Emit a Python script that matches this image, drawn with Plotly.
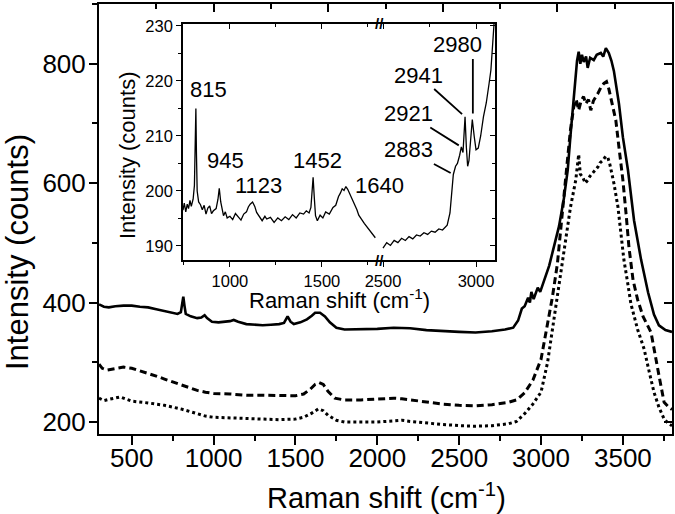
import plotly.graph_objects as go

# ---------------- main spectra ----------------
solid_x = [300, 330, 360, 400, 450, 500, 550, 600, 650, 700, 750, 780, 800, 808, 815, 822, 830, 860, 900, 925,
           945, 960, 990, 1030, 1070, 1100, 1123, 1150, 1200, 1250, 1300, 1350, 1400, 1430, 1452, 1470, 1490,
           1530, 1570, 1600, 1620, 1650, 1680, 1710, 1750, 1800, 1900, 2000, 2100, 2200, 2300, 2400, 2500,
           2600, 2700, 2780, 2830, 2860, 2883, 2900, 2921, 2932, 2941, 2955, 2980, 2995, 3020, 3050, 3080,
           3110, 3140, 3163, 3180, 3193, 3205, 3212, 3220, 3230, 3240, 3250, 3261, 3275, 3285, 3300, 3322,
           3340, 3365, 3380, 3396, 3414, 3430, 3445, 3460, 3476, 3500, 3531, 3568, 3611, 3654, 3690, 3720,
           3760, 3800]
solid_y = [397, 393, 392, 394, 395, 395, 393, 392, 389, 386, 383, 381, 384, 398, 410, 395, 381, 377, 374, 375,
           379, 374, 368, 367, 368, 369, 371, 368, 364, 363, 362, 363, 364, 366, 377, 368, 364,
           367, 372, 378, 383, 383, 377, 367, 358, 355, 355, 356, 358, 357, 354, 352, 351,
           350, 352, 355, 358, 370, 390, 394, 408, 400, 418, 406, 425, 418, 438, 462, 495,
           528, 575, 622, 680, 722, 760, 788, 805, 820, 800, 815, 803, 812, 793, 810, 806,
           815, 818, 812, 826, 818, 805, 788, 762, 733, 677, 622, 538, 472, 417, 380, 362,
           354, 351]

dash_x = [300, 320, 350, 400, 450, 500, 550, 600, 650, 700, 750, 800, 850, 900, 950, 1000, 1100, 1200, 1300,
          1400, 1500, 1550, 1590, 1620, 1645, 1670, 1700, 1740, 1800, 1900, 2000, 2100, 2150, 2200, 2300,
          2400, 2500, 2600, 2700, 2800, 2850, 2900, 2950, 3000, 3040, 3070, 3100, 3130, 3160, 3180, 3200,
          3215, 3230, 3245, 3260, 3273, 3290, 3304, 3320, 3347, 3365, 3384, 3400, 3414, 3427, 3445, 3457,
          3476, 3500, 3519, 3537, 3562, 3590, 3623, 3672, 3721, 3752, 3780, 3800]
dash_y = [297, 290, 287, 290, 292, 290, 286, 282, 277, 272, 267, 262, 257, 253, 250, 248, 247, 245, 245,
          244, 244, 247, 255, 263, 266, 263, 251, 240, 237, 237, 238, 240, 239, 237, 233,
          230, 228, 227, 229, 233, 237, 249, 270, 305, 365, 410, 465, 555, 635, 690, 728,
          740, 722, 738, 745, 733, 740, 722, 738, 750, 760, 767, 770, 758, 743, 720, 705,
          660, 605, 550, 493, 438, 405, 377, 350, 277, 233, 225, 221]

dot_x = [300, 330, 360, 400, 430, 470, 500, 600, 700, 800, 900, 950, 1000, 1100, 1200, 1300, 1400, 1500,
         1550, 1600, 1640, 1670, 1700, 1750, 1800, 1900, 2000, 2100, 2150, 2200, 2300, 2400, 2500, 2600,
         2700, 2800, 2850, 2900, 2950, 3000, 3040, 3070, 3100, 3130, 3150, 3180, 3212, 3230, 3240, 3255,
         3270, 3285, 3300, 3316, 3330, 3347, 3360, 3377, 3395, 3408, 3420, 3435, 3445, 3470, 3488, 3506,
         3531, 3549, 3590, 3630, 3660, 3690, 3720, 3752, 3780, 3800]
dot_y = [240, 236, 238, 241, 242, 238, 235, 232, 228, 222, 214, 210, 208, 207, 205, 205, 204, 205,
         208, 215, 222, 219, 211, 203, 200, 200, 200, 202, 203, 201, 198, 196, 194, 193,
         194, 197, 201, 214, 230, 250, 300, 355, 405, 465, 505, 560, 605, 648, 615, 610,
         600, 605, 612, 617, 622, 627, 634, 638, 645, 643, 632, 615, 600, 560, 517, 472,
         430, 398, 355, 322, 285, 250, 225, 205, 197, 194]

# ---------------- inset spectrum (broken axis) ----------------
inset_lo_x = [745, 752, 760, 768, 775, 783, 790, 800, 807, 812, 815, 818, 822, 830, 840, 850, 860, 870, 880,
              890, 900, 910, 925, 935, 942, 950, 958, 965, 975, 985, 1000, 1015, 1030, 1045, 1060, 1075,
              1090, 1100, 1110, 1123, 1135, 1145, 1160, 1175, 1190, 1200, 1220, 1240, 1260, 1280, 1300,
              1320, 1340, 1360, 1380, 1400, 1415, 1430, 1440, 1447, 1452, 1458, 1465, 1475, 1490, 1505,
              1520, 1540, 1560, 1575, 1590, 1600, 1610, 1620, 1630, 1640, 1650, 1660, 1670, 1680, 1690,
              1700, 1710, 1720, 1730, 1740, 1750, 1760, 1770, 1780, 1790]
inset_lo_y = [196.5, 197.8, 196.2, 197.6, 196.8, 198.3, 197.2, 198.5, 201, 208, 215, 207, 200, 198, 197.5,
              196.6, 197.4, 195.8, 196.9, 197.3, 195.9, 196.4, 196.8, 198.5, 200.5, 198, 196.3, 195.5,
              196.2, 195.1, 195.4, 194.8, 195.9, 195.2, 194.7, 195.8, 196.2, 197.1, 197.6, 198, 197.2,
              196.1, 195.3, 194.6, 195.4, 194.9, 195.2, 194.3, 195.1, 194.6, 195.3, 194.8, 195.7, 195.1,
              196, 195.8, 196.4, 196, 197, 199.5, 202.5, 199, 195.5, 194.6, 195.6, 195.1, 196.2, 195.8,
              197, 197.4, 199, 199.6, 200.4, 200.1, 200.8, 200.3, 199.6, 198.7, 198.1, 197.2, 196.6,
              195.6, 195.2, 194.6, 194.1, 193.7, 193.1, 192.8, 192.3, 191.9, 191.5]
inset_hi_x = [2500, 2520, 2540, 2560, 2580, 2600, 2620, 2640, 2660, 2680, 2700, 2720, 2740, 2760, 2780,
              2800, 2820, 2845, 2860, 2870, 2878, 2890, 2900, 2912, 2921, 2930, 2936, 2941, 2948, 2955,
              2962, 2972, 2980, 2990, 3000, 3012, 3025, 3040, 3055, 3070, 3080, 3090, 3100]
inset_hi_y = [189.6, 190.6, 190.1, 191, 190.6, 191.4, 191, 191.7, 191.3, 192, 191.8, 192.4, 192.1, 192.7,
              192.5, 193.1, 192.9, 193.8, 196, 200, 203, 204.5, 205, 206.5, 208, 207, 210, 213.5, 208,
              204.5, 205.5, 209, 213, 210, 207.5, 207.8, 210, 213.5, 216, 219.5, 222, 227, 232]

low_labels = ["815", "945", "1123", "1452", "1640"]
ch_labels = ["2883", "2921", "2941", "2980"]
ch_peak_x = [2878, 2921, 2941, 2983]
ch_peak_y = [203, 208, 213.5, 213]

# pixel geometry helpers (layout only)
W, H = 675, 514
L, R, T, B = 99, 3, 4, 80
PW, PH = W - L - R, H - T - B
def px(x):
    return (x - L) / PW
def py(y):
    return (T + PH - y) / PH

FONT = "Liberation Sans, Arial, sans-serif"

fig = go.Figure()
fig.add_trace(go.Scatter(x=solid_x, y=solid_y, mode="lines", line=dict(color="black", width=2.6)))
fig.add_trace(go.Scatter(x=dash_x, y=dash_y, mode="lines", line=dict(color="black", width=3, dash="7px,4px")))
fig.add_trace(go.Scatter(x=dot_x, y=dot_y, mode="lines", line=dict(color="black", width=3, dash="3px,3px")))
fig.add_trace(go.Scatter(x=inset_lo_x, y=inset_lo_y, mode="lines", xaxis="x3", yaxis="y3",
                         line=dict(color="black", width=1.3)))
fig.add_trace(go.Scatter(x=inset_hi_x, y=inset_hi_y, mode="lines", xaxis="x4", yaxis="y3",
                         line=dict(color="black", width=1.3)))
# empty traces so the mirror axes are drawn
for xa, ya in [("x2", "y2"), ("x5", "y3"), ("x6", "y3"), ("x4", "y4")]:
    fig.add_trace(go.Scatter(x=[], y=[], xaxis=xa, yaxis=ya, mode="lines"))

main_rx = [300, 3800]
main_ry = [180, 900]
ins_lo_r = [745, 1810]
ins_hi_r = [2478.5, 3102]
ins_yr = [187.45, 230.36]
xd3 = [px(183), px(379)]
xd4 = [px(379), px(495)]
yd3 = [py(260), py(24)]

common = dict(showgrid=False, zeroline=False, linecolor="black", color="black", automargin=False,
              tickcolor="black")
fig.update_layout(
    template="none",
    width=W, height=H, margin=dict(l=L, r=R, t=T, b=B, autoexpand=False),
    plot_bgcolor="white", paper_bgcolor="white", showlegend=False,
    font=dict(family=FONT, color="black"),
    xaxis=dict(range=main_rx, tick0=0, dtick=500, ticks="outside", ticklen=9, tickwidth=1.5,
               showline=True, linewidth=2, tickfont=dict(size=26), ticklabelstandoff=-9,
               minor=dict(dtick=250, ticks="outside", ticklen=5, tickwidth=1.5), **common),
    yaxis=dict(range=main_ry, tick0=0, dtick=200, ticks="outside", ticklen=8, tickwidth=1.5,
               showline=True, linewidth=2, tickfont=dict(size=26), ticklabelstandoff=-2,
               minor=dict(dtick=100, ticks="outside", ticklen=5, tickwidth=1.5), **common),
    xaxis2=dict(overlaying="x", side="top", anchor="y", range=[0, 10], tick0=0, dtick=2,
                ticks="inside", ticklen=8, tickwidth=1.5, showticklabels=False, showline=True, linewidth=2,
                minor=dict(dtick=1, ticks="inside", ticklen=5, tickwidth=1.5), **common),
    yaxis2=dict(overlaying="y", side="right", anchor="x", range=main_ry, tick0=0, dtick=200,
                ticks="inside", ticklen=8, tickwidth=1.5, showticklabels=False, showline=True, linewidth=2,
                minor=dict(dtick=100, ticks="inside", ticklen=5, tickwidth=1.5), **common),
    xaxis3=dict(domain=xd3, anchor="y3", range=ins_lo_r, tick0=0, dtick=500, ticks="outside", ticklen=5,
                tickwidth=1.3, showline=True, linewidth=1.6, tickfont=dict(size=16.5),
                minor=dict(dtick=250, ticks="outside", ticklen=3, tickwidth=1.3), **common),
    xaxis4=dict(domain=xd4, anchor="y3", range=ins_hi_r, tick0=0, dtick=500, ticks="outside", ticklen=5,
                tickwidth=1.3, showline=True, linewidth=1.6, tickfont=dict(size=16.5),
                minor=dict(dtick=250, ticks="outside", ticklen=3, tickwidth=1.3), **common),
    xaxis5=dict(overlaying="x3", side="top", anchor="y3", domain=xd3, range=ins_lo_r, tick0=0, dtick=500,
                ticks="inside", ticklen=5, tickwidth=1.3, showticklabels=False, showline=True, linewidth=1.6,
                minor=dict(dtick=250, ticks="inside", ticklen=3, tickwidth=1.3), **common),
    xaxis6=dict(overlaying="x4", side="top", anchor="y3", domain=xd4, range=ins_hi_r, tick0=0, dtick=500,
                ticks="inside", ticklen=5, tickwidth=1.3, showticklabels=False, showline=True, linewidth=1.6,
                minor=dict(dtick=250, ticks="inside", ticklen=3, tickwidth=1.3), **common),
    yaxis3=dict(domain=yd3, anchor="x3", range=ins_yr, tick0=0, dtick=10, ticks="outside", ticklen=5,
                tickwidth=1.3, showline=True, linewidth=1.6, tickfont=dict(size=16.5),
                minor=dict(dtick=5, ticks="outside", ticklen=3, tickwidth=1.3), **common),
    yaxis4=dict(overlaying="y3", side="right", anchor="x4", range=ins_yr, tick0=0, dtick=10,
                ticks="inside", ticklen=5, tickwidth=1.3, showticklabels=False, showline=True, linewidth=1.6,
                minor=dict(dtick=5, ticks="inside", ticklen=3, tickwidth=1.3), **common),
)

ann = []
# axis titles
ann.append(dict(text="Raman shift (cm<sup>-1</sup>)", x=px(386), y=py(496), xref="paper", yref="paper",
                showarrow=False, xanchor="center", yanchor="middle", font=dict(size=29)))
ann.append(dict(text="Intensity (counts)", x=px(17), y=py(252), xref="paper", yref="paper", textangle=-90,
                showarrow=False, xanchor="center", yanchor="middle", font=dict(size=31)))
ann.append(dict(text="Raman shift (cm<sup>-1</sup>)", x=px(339), y=py(299), xref="paper", yref="paper",
                showarrow=False, xanchor="center", yanchor="middle", font=dict(size=22)))
ann.append(dict(text="Intensity (counts)", x=px(127), y=py(155), xref="paper", yref="paper", textangle=-90,
                showarrow=False, xanchor="center", yanchor="middle", font=dict(size=22)))
# peak labels (fingerprint region)
label_pos = [(208, 89.5), (225.5, 160.5), (258, 185.5), (317, 160.5), (379, 185)]
for t, (lx, ly) in zip(low_labels, label_pos):
    ann.append(dict(text=t, x=px(lx), y=py(ly), xref="paper", yref="paper", showarrow=False,
                    xanchor="center", yanchor="middle", font=dict(size=22)))
# CH-stretch labels with leader lines
ch_offsets = [(-45.3, -24.5, 3, None), (-53.3, -33.5, 3, None), (-46.5, -41.7, 4, None), (0, -74.5, 6, 80)]
for t, lx, ly, (axo, ayo, so, w) in zip(ch_labels, ch_peak_x, ch_peak_y, ch_offsets):
    a = dict(text=t, x=lx, y=ly, xref="x4", yref="y3", showarrow=True, arrowhead=0,
             arrowwidth=1.8, arrowcolor="black", ax=axo, ay=ayo, standoff=so, font=dict(size=22))
    if w:
        a.update(width=w, align="left")
    ann.append(a)
# axis break marks
for yy in (24, 260):
    ann.append(dict(text="<b>//</b>", x=px(379), y=py(yy), xref="paper", yref="paper", showarrow=False,
                    xanchor="center", yanchor="middle", font=dict(size=15)))
fig.update_layout(annotations=ann)

fig.write_html("out.html", config={"displayModeBar": False},
               post_script="document.body.style.margin='0';")
